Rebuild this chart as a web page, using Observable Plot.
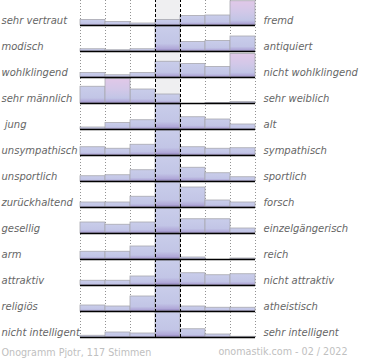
<!DOCTYPE html>
<html>
<head>
<meta charset="utf-8">
<script src="https://cdn.jsdelivr.net/npm/d3@7"></script>
<script src="https://cdn.jsdelivr.net/npm/@observablehq/plot@0.6"></script>
<style>
  html, body { margin: 0; padding: 0; background: #fff; }
  #chart svg { display: block; }
</style>
</head>
<body>
<div id="chart"></div>
<script>
// Left / right poles of each semantic differential row
const leftLabels = ["sehr vertraut", "modisch", "wohlklingend", "sehr männlich", " jung", "unsympathisch", "unsportlich", "zurückhaltend", "gesellig", "arm", "attraktiv", "religiös", "nicht intelligent"];
const rightLabels = ["fremd", "antiquiert", "nicht wohlklingend", "sehr weiblich", "alt", "sympathisch", "sportlich", "forsch", "einzelgängerisch", "reich", "nicht attraktiv", "atheistisch", "sehr intelligent"];

// Relative bar heights (percent of row height) for the 7 scale steps of each row
const rowValues = [
  [22, 14, 8, 22, 38, 40, 97],
  [9, 5, 9, 100, 38, 42, 60],
  [18, 9, 18, 63, 54, 42, 94],
  [67, 98, 56, 36, 0, 2, 6],
  [8, 26, 37, 100, 49, 40, 20],
  [33, 27, 43, 100, 33, 27, 29],
  [21, 25, 45, 100, 55, 33, 17],
  [20, 20, 43, 100, 80, 28, 20],
  [44, 35, 44, 100, 57, 57, 20],
  [31, 31, 52, 100, 8, 0, 4],
  [19, 19, 36, 100, 49, 41, 45],
  [24, 20, 60, 100, 20, 15, 15],
  [7, 20, 16, 100, 33, 12, 3]
];

const footerLeft = "Onogramm Pjotr, 117 Stimmen";
const footerRight = "onomastik.com - 02 / 2022";

const nRows = leftLabels.length;
const base = k => nRows - 1 - k;

const cells = rowValues.flatMap((row, k) => row.map((v, i) => ({k, i, v})));
const rows = leftLabels.map((l, k) => ({k, left: l, right: rightLabels[k]}));

const barOpts = (filter, fill) => ({
  filter,
  x1: d => d.i,
  x2: d => d.i + 1,
  y1: d => base(d.k),
  y2: d => base(d.k) + d.v / 104,
  fill,
  stroke: "#a8a8b0",
  strokeWidth: 0.8
});

const plot = Plot.plot({
  width: 370,
  height: 360,
  margin: 0,
  style: {fontFamily: "DejaVu Sans, sans-serif", fontSize: "10px", background: "#fff"},
  x: {domain: [-3.2, 11.6], range: [0, 370], axis: null},
  y: {domain: [0, nRows], range: [337, -1], axis: null},
  marks: [
    Plot.rect([0], {x1: () => 3, x2: () => 4, y1: () => 0, y2: () => nRows, fill: "#efeff1"}),
    Plot.ruleX([0, 1, 2, 5, 6, 7], {x: d => d, y1: () => 0, y2: () => nRows, stroke: "#777", strokeWidth: 0.8, strokeDasharray: "1,2"}),
    Plot.rect(cells.filter(d => d.v > 0), barOpts(d => d.i === 3 || d.v < 90, "url(#gBlue)")),
    Plot.rect(cells.filter(d => d.v > 0), barOpts(d => d.i !== 3 && d.v >= 90, "url(#gPink)")),
    Plot.ruleY(rows, {y: d => base(d.k), x1: () => 0, x2: () => 7, stroke: "#000", strokeWidth: 1.6}),
    Plot.ruleX([3, 4], {x: d => d, y1: () => 0, y2: () => nRows, stroke: "#000", strokeWidth: 1, strokeDasharray: "3,2"}),
    Plot.text(rows, {x: () => -3.2, y: d => base(d.k), text: "left", textAnchor: "start", dx: 1, dy: -5, fontStyle: "italic", fill: "#666"}),
    Plot.text(rows, {x: () => 7.32, y: d => base(d.k), text: "right", textAnchor: "start", dy: -5, fontStyle: "italic", fill: "#666"}),
    Plot.text([footerLeft], {text: d => d, frameAnchor: "bottom-left", lineAnchor: "middle", dx: 1, dy: -7.5, fill: "#c0c0c0", fontSize: 9.6}),
    Plot.text([footerRight], {text: d => d, frameAnchor: "bottom-right", lineAnchor: "middle", dx: -23, dy: -8.5, fill: "#c0c0c0", fontSize: 9.6})
  ]
});

d3.select(plot).insert("defs", ":first-child").html(`
  <linearGradient id="gBlue" x1="0" y1="0" x2="0" y2="1">
    <stop offset="0" stop-color="#c9cdea"/>
    <stop offset="0.7" stop-color="#c2c5e6"/>
    <stop offset="0.9" stop-color="#b0a8d8"/>
    <stop offset="1" stop-color="#8a7cb8"/>
  </linearGradient>
  <linearGradient id="gPink" x1="0" y1="0" x2="0" y2="1">
    <stop offset="0" stop-color="#e1c8e8"/>
    <stop offset="0.45" stop-color="#d2c8e8"/>
    <stop offset="0.8" stop-color="#c2c5e6"/>
    <stop offset="0.93" stop-color="#b0a8d8"/>
    <stop offset="1" stop-color="#8a7cb8"/>
  </linearGradient>
`);

document.getElementById("chart").appendChild(plot);
</script>
</body>
</html>
